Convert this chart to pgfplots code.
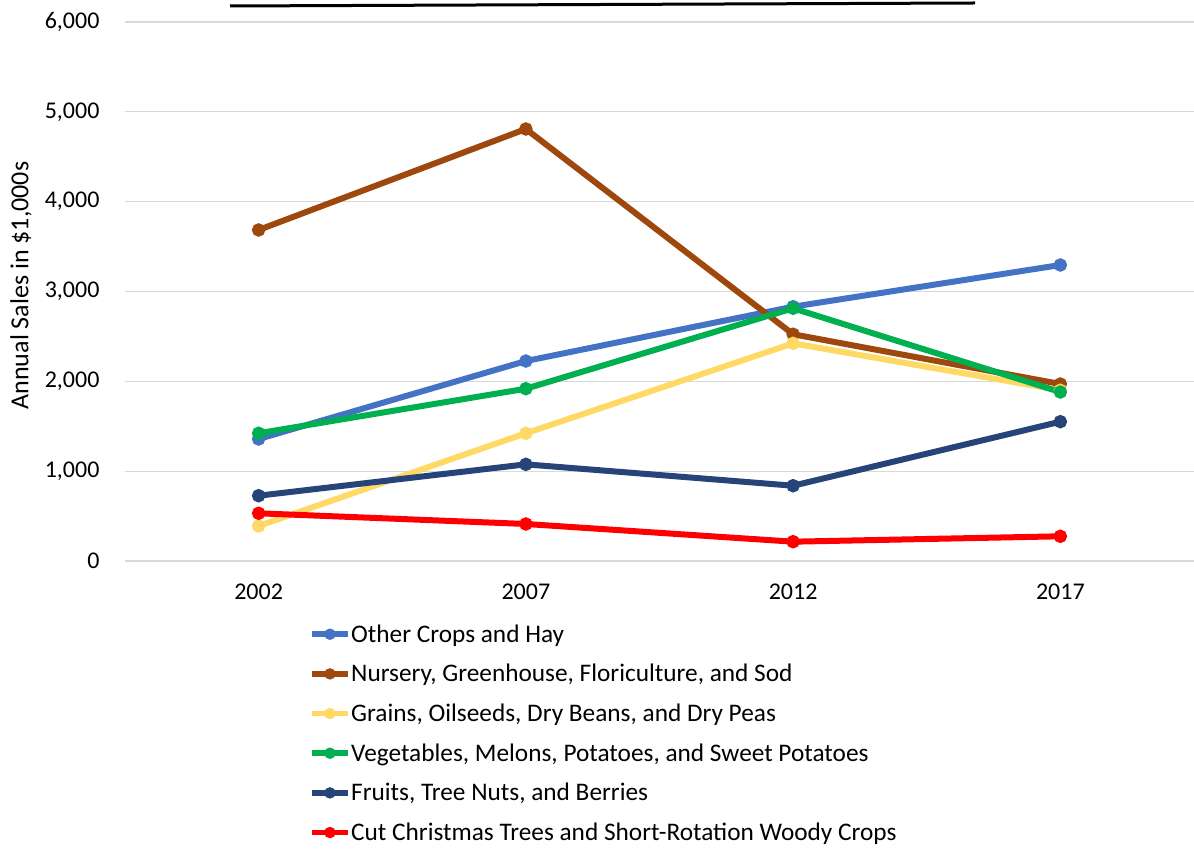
\documentclass[border=0pt]{standalone}
\usepackage{fontspec}
\setmainfont{Carlito}
\usepackage{pgfplots}
\pgfplotsset{compat=1.18}

\definecolor{cOther}{HTML}{4472C4}
\definecolor{cNursery}{HTML}{9E480E}
\definecolor{cGrain}{HTML}{FFD966}
\definecolor{cVeg}{HTML}{00B050}
\definecolor{cFruit}{HTML}{264478}
\definecolor{cTree}{HTML}{FF0000}
\definecolor{cGrid}{HTML}{D9D9D9}

\begin{document}
\begin{tikzpicture}
\useasboundingbox (0,0) rectangle (1194pt,849pt);
% stray rule at the top of the source image
\draw[line width=3pt, black] (230pt,843pt) -- (975pt,846pt);
\begin{axis}[
    at={(125pt,288pt)}, anchor=south west,
    scale only axis,
    width=1069pt, height=539pt,
    xmin=-0.5, xmax=3.5,
    ymin=0, ymax=6000,
    xtick={0,1,2,3},
    xticklabels={2002,2007,2012,2017},
    ytick={0,1000,2000,3000,4000,5000,6000},
    /pgf/number format/assume math mode=true,
    /pgf/number format/1000 sep={,},
    ymajorgrids,
    grid style={cGrid, line width=1.3pt},
    axis x line*=bottom,
    axis y line*=left,
    y axis line style={draw=none},
    x axis line style={cGrid, line width=1.3pt, -},
    major tick length=0pt,
    tick label style={font=\fontsize{24}{28}\selectfont, text=black},
    yticklabel style={xshift=-22pt},
    xticklabel style={yshift=-19pt},
    ylabel={Annual Sales in \$1,000s},
    ylabel style={at={(axis description cs:0,0.5)}, anchor=center,
        yshift=104pt, xshift=6pt, font=\fontsize{26}{30}\selectfont},
    every axis plot/.append style={line width=6pt, mark=*, mark size=3.6pt},
    legend style={at={(axis description cs:0,0)}, anchor=north west,
        xshift=181pt, yshift=-61pt, draw=none, fill=none,
        font=\fontsize{25.3}{29}\selectfont,
        row sep=19.6pt,
        nodes={inner sep=0.5pt, anchor=west}},
    legend cell align=left,
    legend image code/.code={%
        \draw[mark repeat=2, mark phase=2, line width=5.5pt, mark size=2.8pt]
        plot coordinates {(0pt,0pt) (18pt,0pt) (36pt,0pt)};},
    clip=false,
]
\addplot[cOther] coordinates {(0,1358) (1,2226) (2,2831) (3,3295)};
\addlegendentry{Other Crops and Hay}
\addplot[cNursery] coordinates {(0,3685) (1,4809) (2,2524) (3,1970)};
\addlegendentry{Nursery, Greenhouse, Floriculture, and Sod}
\addplot[cGrain] coordinates {(0,390) (1,1422) (2,2423) (3,1900)};
\addlegendentry{Grains, Oilseeds, Dry Beans, and Dry Peas}
\addplot[cVeg] coordinates {(0,1422) (1,1918) (2,2813) (3,1881)};
\addlegendentry{Vegetables, Melons, Potatoes, and Sweet Potatoes}
\addplot[cFruit] coordinates {(0,727) (1,1076) (2,838) (3,1551)};
\addlegendentry{Fruits, Tree Nuts, and Berries}
\addplot[cTree] coordinates {(0,531) (1,412) (2,215) (3,275)};
\addlegendentry{Cut Christmas Trees and Short-Rotation Woody Crops}
\end{axis}
\end{tikzpicture}
\end{document}
